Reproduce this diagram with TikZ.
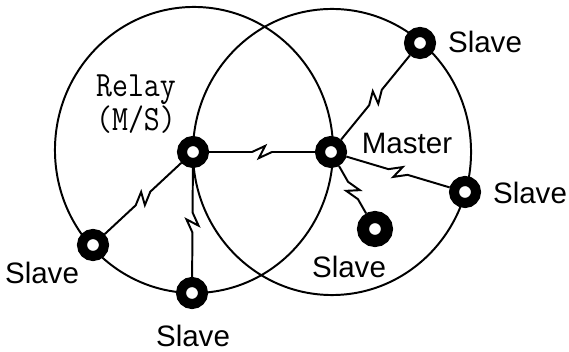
\documentclass[tikz,border=0pt]{standalone}
\usepackage{fontspec}
\setmainfont{Liberation Sans}
\usetikzlibrary{calc,positioning}

\tikzset{
  area/.style={line width=1.4pt},
  link/.style={line width=1.4pt, line join=miter},
  dev/.style={circle, draw, fill=white, line width=0.25cm, minimum size=0.55cm, inner sep=0pt},
  tag/.style={font=\fontsize{21}{25}\selectfont, inner sep=0pt}
}
% lightning link between two devices
\newcommand{\bolt}[2]{%
  \coordinate (mid) at ($(#1)!.5!(#2)$);
  \draw[link] (#1) -- ($(mid)!0.25cm!(#1)$) -- ($(mid)!0.17cm!63:(#2)$)
    -- ($(mid)!0.17cm!-117:(#2)$) -- ($(mid)!0.25cm!(#2)$) -- (#2);
}

\begin{document}
\begin{tikzpicture}[x=0.025cm, y=-0.025cm]
        \useasboundingbox (0,0) rectangle (569,352);
        % Draw the two ranges
        \draw[area] (194,150) ellipse [x radius=3.475cm, y radius=3.575cm];
        \draw[area] (332,152) ellipse [x radius=3.475cm, y radius=3.575cm];
        % devices
        \node[dev] (relay) at (193,152) {};
        \node[dev] (master) at (331,152) {};
        \node[dev] (s1) at (420,43) {};
        \node[dev] (s2) at (465,192) {};
        \node[dev, line width=0.3cm, minimum size=0.6cm] (s3) at (375,229) {};
        \node[dev] (s4) at (93,245) {};
        \node[dev] (s5) at (192,293) {};
        % radio links
        \bolt{relay}{master}
        \bolt{relay}{s4}
        \bolt{relay}{s5}
        \bolt{master}{s1}
        \bolt{master}{s2}
        \bolt{master}{s3}
        % names
        \node[tag, font=\ttfamily\fontsize{22}{20}\selectfont, align=center] (lrelay) at (136,104)
          {\scalebox{1}[1.15]{Relay}\\\scalebox{1}[1.15]{(M/S)}};
        \node[tag] (lmaster) at (407,143) {Master};
        \node[tag] (l1) at (485,42) {Slave};
        \node[tag] (l2) at (530,193) {Slave};
        \node[tag] (l3) at (349,267) {Slave};
        \node[tag] (l4) at (42,273) {Slave};
        \node[tag] (l5) at (193,336) {Slave};
      \end{tikzpicture}
\end{document}
